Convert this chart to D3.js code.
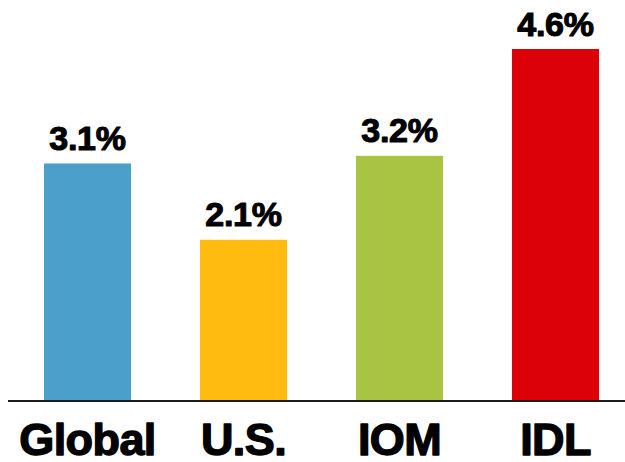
<!DOCTYPE html>
<html>
<head>
<meta charset="utf-8">
<script src="https://cdn.jsdelivr.net/npm/d3@7"></script>
<style>
  html, body { margin: 0; padding: 0; background: #fff; }
  svg { display: block; }
</style>
</head>
<body>
<svg id="chart" width="625" height="462"></svg>
<script>
// Growth rates by group
const categories = ["Global", "U.S.", "IOM", "IDL"];
const values = [3.1, 2.1, 3.2, 4.6];
const colors = ["#4aa0cb", "#ffbb10", "#a9c343", "#dc0009"];
const valueLabels = ["3.1%", "2.1%", "3.2%", "4.6%"];

const width = 625, height = 462;
const baseY = 400;
const font = "'Liberation Sans', Arial, Helvetica, sans-serif";

const svg = d3.select("#chart");

const x = d3.scaleBand()
  .domain(categories)
  .range([9.5, 633.5])
  .paddingInner(0.442)
  .paddingOuter(0.221);

const y = d3.scaleLinear()
  .domain([0, 4.6])
  .range([baseY, 49]);

// Bars
svg.append("g")
  .selectAll("rect")
  .data(categories)
  .join("rect")
  .attr("x", d => x(d))
  .attr("width", x.bandwidth())
  .attr("y", (d, i) => y(values[i]))
  .attr("height", (d, i) => baseY - y(values[i]))
  .attr("fill", (d, i) => colors[i]);

// Value labels above bars (heavy weight via a thin outline)
svg.append("g")
  .selectAll("text")
  .data(categories)
  .join("text")
  .attr("x", d => x(d) + x.bandwidth() / 2)
  .attr("y", (d, i) => y(values[i]) - 13.5)
  .attr("text-anchor", "middle")
  .attr("font-family", font)
  .attr("font-weight", "bold")
  .attr("font-size", 34)
  .attr("letter-spacing", -0.3)
  .attr("fill", "#000")
  .attr("stroke", "#000")
  .attr("stroke-width", 1.1)
  .attr("stroke-linejoin", "round")
  .text((d, i) => valueLabels[i]);

// Baseline axis
const axis = d3.axisBottom(x).tickSize(0).tickPadding(0);
const gAxis = svg.append("g")
  .attr("transform", `translate(0,${baseY})`)
  .call(axis);
gAxis.select(".domain").remove();
gAxis.append("line")
  .attr("x1", 8).attr("x2", 625)
  .attr("y1", 1).attr("y2", 1)
  .attr("stroke", "#1a1a1a")
  .attr("stroke-width", 2);
gAxis.selectAll(".tick text")
  .attr("y", 55)
  .attr("dy", 0)
  .attr("font-family", font)
  .attr("font-weight", "bold")
  .attr("font-size", 45)
  .attr("letter-spacing", -0.6)
  .attr("fill", "#000")
  .attr("stroke", "#000")
  .attr("stroke-width", 1.4)
  .attr("stroke-linejoin", "round");
</script>
</body>
</html>
